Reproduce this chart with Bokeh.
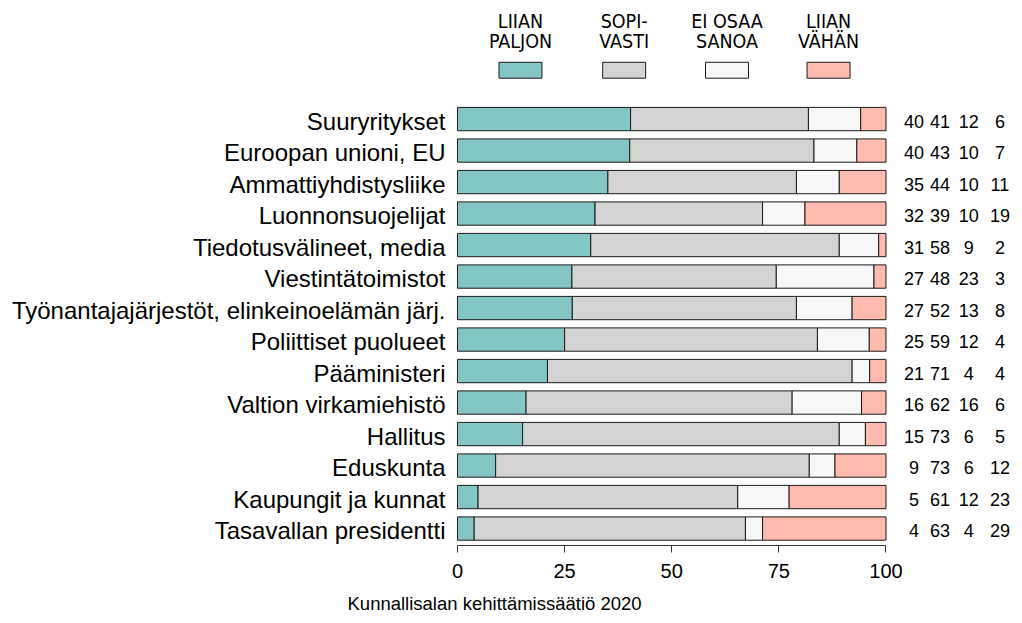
from bokeh.plotting import figure
from bokeh.models import Range1d, FixedTicker, Title, ColumnDataSource
from bokeh.core.properties import value
from bokeh.embed import file_html
from bokeh.resources import INLINE

# ---------------- data ----------------
categories = [
    "Suuryritykset",
    "Euroopan unioni, EU",
    "Ammattiyhdistysliike",
    "Luonnonsuojelijat",
    "Tiedotusvälineet, media",
    "Viestintätoimistot",
    "Työnantajajärjestöt, elinkeinoelämän järj.",
    "Poliittiset puolueet",
    "Pääministeri",
    "Valtion virkamiehistö",
    "Hallitus",
    "Eduskunta",
    "Kaupungit ja kunnat",
    "Tasavallan presidentti",
]
# bar shares (%) as drawn
liian_paljon = [40.4, 40.2, 35.1, 32.1, 31.1, 26.7, 26.8, 25.0, 21.0, 16.0, 15.2, 8.9, 4.8, 3.9]
sopivasti    = [41.5, 43.0, 44.0, 39.1, 58.0, 47.7, 52.3, 59.0, 71.1, 62.1, 73.9, 73.2, 60.6, 63.3]
ei_osaa      = [12.2, 10.0, 10.0, 9.9, 9.2, 22.8, 13.0, 12.1, 4.1, 16.2, 6.1, 6.0, 12.0, 4.0]
liian_vahan  = [5.9, 6.8, 10.9, 18.9, 1.7, 2.8, 7.9, 3.9, 3.8, 5.7, 4.8, 11.9, 22.6, 28.8]
# printed (rounded) values
lbl_paljon = [40, 40, 35, 32, 31, 27, 27, 25, 21, 16, 15, 9, 5, 4]
lbl_sopi   = [41, 43, 44, 39, 58, 48, 52, 59, 71, 62, 73, 73, 61, 63]
lbl_eos    = [12, 10, 10, 10, 9, 23, 13, 12, 4, 16, 6, 6, 12, 4]
lbl_vahan  = [6, 7, 11, 19, 2, 3, 8, 4, 4, 6, 5, 12, 23, 29]

series_keys = ["liian_paljon", "sopivasti", "ei_osaa", "liian_vahan"]
legend_labels = ["LIIAN\nPALJON", "SOPI-\nVASTI", "EI OSAA\nSANOA", "LIIAN\nVÄHÄN"]
colors = ["#83C5C2", "#D3D3D3", "#F7F7F7", "#FFBBAE"]
x_ticks = [0, 25, 50, 75, 100]
caption = "Kunnallisalan kehittämissäätiö 2020"

# ---------------- layout ----------------
FONT = "Liberation Sans"
NARROW = "DejaVu Sans Condensed, Liberation Sans"
OUTLINE = "#1a1a1a"

rows = list(range(len(categories)))
src = ColumnDataSource(dict(
    row=rows,
    liian_paljon=liian_paljon, sopivasti=sopivasti,
    ei_osaa=ei_osaa, liian_vahan=liian_vahan,
))

p = figure(width=1022, height=623, output_backend="svg", toolbar_location=None,
           y_axis_type=None,
           x_range=Range1d(-106.65, 131.86), y_range=Range1d(13.538, -3.764))
p.min_border_left = 0
p.min_border_right = 0
p.min_border_top = 0
p.min_border_bottom = 76
p.outline_line_color = None
p.xgrid.visible = False
p.ygrid.visible = False
p.background_fill_color = "white"
p.border_fill_color = "white"

p.hbar_stack(series_keys, y="row", height=0.74, source=src,
             color=colors, line_color=OUTLINE, line_width=1)

# category labels
p.text(x=[-2.8] * len(rows), y=rows, text=categories, text_align="right",
       text_baseline="middle", text_font=value(FONT), text_font_size="24px",
       text_color="black", y_offset=2)

# printed numbers on the right
num_x = [106.55, 112.6, 119.3, 126.6]
for xx, vals in zip(num_x, [lbl_paljon, lbl_sopi, lbl_eos, lbl_vahan]):
    p.text(x=[xx] * len(rows), y=rows, text=[str(v) for v in vals],
           text_align="center", text_baseline="middle", text_font=value(FONT),
           text_font_size="18px", text_color="black", y_offset=2)

# legend on top
leg_x = [14.7, 38.9, 62.9, 86.6]
p.rect(x=leg_x, y=[-1.55] * 4, width=10.03, height=0.506,
       fill_color=colors, line_color=OUTLINE, line_width=1)
line1 = [s.split("\n")[0] for s in legend_labels]
line2 = [s.split("\n")[1] for s in legend_labels]
p.text(x=leg_x, y=[-3.106] * 4, text=line1, text_align="center",
       text_baseline="middle", text_font=value(NARROW), text_font_size="19.5px",
       text_color="black")
p.text(x=leg_x, y=[-2.451] * 4, text=line2, text_align="center",
       text_baseline="middle", text_font=value(NARROW), text_font_size="19.5px",
       text_color="black")

# x axis
ax = p.xaxis[0]
ax.ticker = FixedTicker(ticks=x_ticks)
ax.bounds = (0, 100)
ax.axis_line_color = "#333333"
ax.major_tick_line_color = "#333333"
ax.major_tick_out = 7
ax.major_tick_in = 0
ax.minor_tick_line_color = None
ax.major_label_text_font = FONT
ax.major_label_text_font_size = "20px"
ax.major_label_text_color = "black"
ax.major_label_standoff = 11

t = Title(text=caption, align="left", offset=347, standoff=20, text_font=FONT,
          text_font_size="18.5px", text_font_style="normal", text_color="black")
p.add_layout(t, "below")

open("out.html", "w").write(file_html(p, INLINE))
